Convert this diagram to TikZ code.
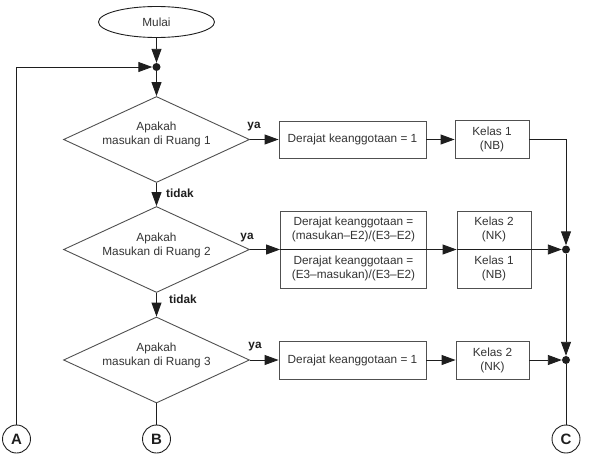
\documentclass[tikz,border=0pt]{standalone}
\usepackage{fontspec}
\setmainfont{Liberation Sans}
\usetikzlibrary{shapes.geometric,arrows.meta}
\definecolor{ink}{HTML}{1E1E1E}
\definecolor{edge}{HTML}{505050}
\definecolor{txt}{HTML}{333333}
\begin{document}
\begin{tikzpicture}[x=1pt,y=-1pt,
  font=\fontsize{11.8}{14}\selectfont, text=txt,
  conn/.style={draw=ink,line width=0.9pt},
  flow/.style={conn,-{Triangle[length=14pt,width=10pt]}},
  box/.style={draw=edge,line width=0.9pt,rectangle,inner sep=0pt},
  decision/.style={draw=edge,line width=0.9pt,diamond,inner sep=0pt,
                   minimum width=186pt,minimum height=86pt},
  terminal/.style={draw=ink,line width=0.9pt,ellipse,inner sep=0pt,
                   minimum width=116pt,minimum height=31pt},
  dot/.style={circle,fill=ink,inner sep=0pt,minimum size=8pt},
  offpage/.style={circle,draw=ink,line width=0.9pt,minimum size=28pt,inner sep=0pt,
                  font=\fontsize{15}{16}\selectfont\bfseries,text=ink},
  tag/.style={font=\fontsize{11.8}{14}\selectfont\bfseries,text=ink,inner sep=0pt},
  words/.style={align=center,inner sep=0pt}
]
\useasboundingbox (0,0) rectangle (604,453);

% start
\node[terminal] (start) at (156.5,22) {Mulai};
\node[dot] (j1) at (156.5,67) {};

% decisions
\node[decision] (d1) at (156.5,139.5) {};
\node[words] (d1t) at (156.5,134) {Apakah\\masukan di Ruang 1};
\node[decision] (d2) at (156.5,249.5) {};
\node[words] (d2t) at (156.5,245) {Apakah\\Masukan di Ruang 2};
\node[decision] (d3) at (156.5,360) {};
\node[words] (d3t) at (156.5,355) {Apakah\\masukan di Ruang 3};

% row 1
\node[box,minimum width=147pt,minimum height=37pt] (b1) at (352.5,139.5) {Derajat keanggotaan = 1};
\node[box,minimum width=74pt,minimum height=38pt,words] (k1) at (492,139.5) {Kelas 1\\(NB)};

% row 2
\node[box,minimum width=146pt,minimum height=77pt] (b2) at (353.5,249.5) {};
\node[words] (b2a) at (353.5,229.5) {Derajat keanggotaan =\\(masukan–E2)/(E3–E2)};
\node[words] (b2b) at (353.5,268.5) {Derajat keanggotaan =\\(E3–masukan)/(E3–E2)};
\node[box,minimum width=74pt,minimum height=77pt] (k2) at (494,249.5) {};
\node[words] (k2a) at (494,229.5) {Kelas 2\\(NK)};
\node[words] (k2b) at (494,268.5) {Kelas 1\\(NB)};

% row 3
\node[box,minimum width=147pt,minimum height=38pt] (b3) at (352.5,360) {Derajat keanggotaan = 1};
\node[box,minimum width=73pt,minimum height=38pt,words] (k3) at (492.5,360) {Kelas 2\\(NK)};

% junctions
\node[dot] (j2) at (566,249.5) {};
\node[dot] (j3) at (566,360) {};

% off-page connectors
\node[offpage] (A) at (16.5,439) {A};
\node[offpage] (B) at (156.5,439) {B};
\node[offpage] (C) at (566,439) {C};

% branch tags
\node[tag] (ya1) at (254,127) {ya};
\node[tag] (ya2) at (247,238) {ya};
\node[tag] (ya3) at (255,347) {ya};
\node[tag] (no1) at (180,193) {tidak};
\node[tag] (no2) at (183,299) {tidak};

% main flow
\draw[flow] (start) -- (j1);
\draw[flow] (A.north) |- (j1);
\draw[flow] (j1) -- (d1.north);
\draw[flow] (d1.south) -- (d2.north);
\draw[flow] (d2.south) -- (d3.north);
\draw[conn] (d3.south) -- (B);

% row 1 connectors
\draw[flow] (d1.east) -- (b1.west);
\draw[flow] (b1.east) -- (k1.west);
\draw[flow] (k1.east) -| (j2);

% row 2 connectors
\draw[flow] (d2.east) -- (b2.west);
\draw[conn] (b2.west) -- (b2.east);
\draw[flow] (b2.east) -- (k2.west);
\draw[conn] (k2.west) -- (k2.east);
\draw[flow] (k2.east) -- (j2);

% row 3 connectors
\draw[flow] (d3.east) -- (b3.west);
\draw[flow] (b3.east) -- (k3.west);
\draw[flow] (k3.east) -- (j3);
\draw[flow] (j2) -- (j3);
\draw[conn] (j3) -- (C);
\end{tikzpicture}
\end{document}
